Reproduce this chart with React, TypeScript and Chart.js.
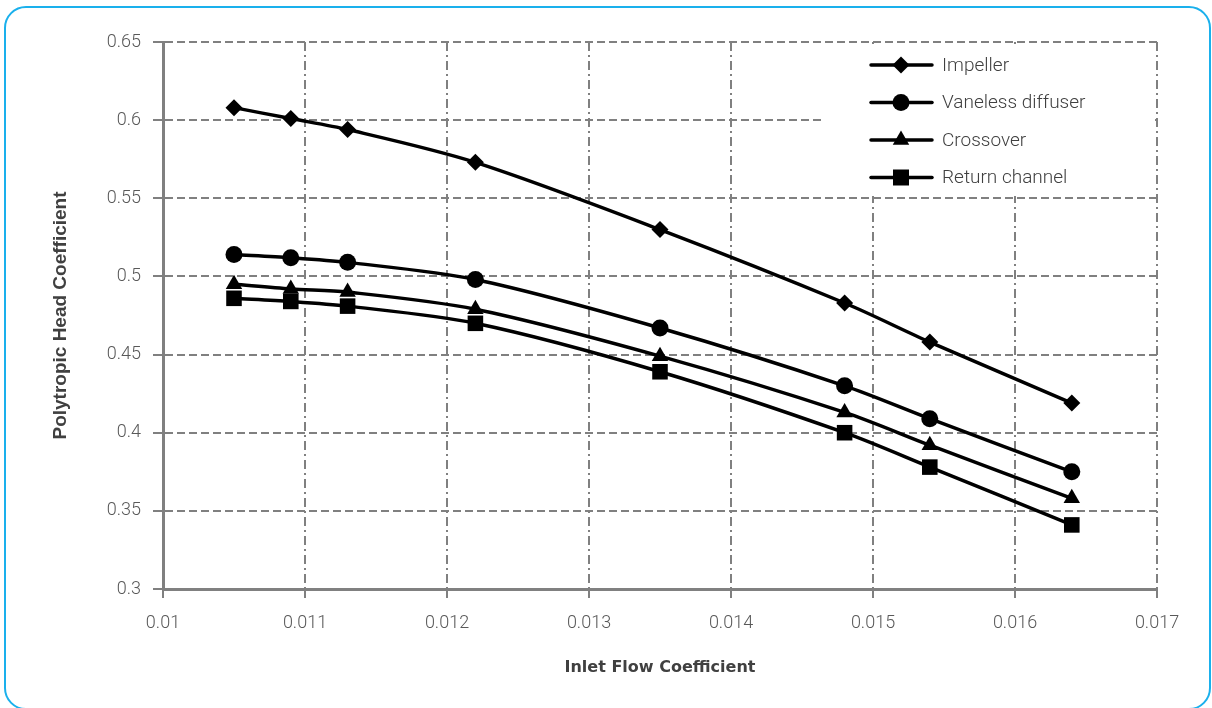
import React, { useEffect, useRef } from "react";
import { Chart, registerables } from "chart.js";

Chart.register(...registerables);

const flowCoeff = [0.0105, 0.0109, 0.0113, 0.0122, 0.0135, 0.0148, 0.0154, 0.0164];
const impeller = [0.608, 0.601, 0.594, 0.573, 0.530, 0.483, 0.458, 0.419];
const vaneless = [0.514, 0.512, 0.509, 0.498, 0.467, 0.430, 0.409, 0.375];
const crossover = [0.495, 0.492, 0.490, 0.479, 0.449, 0.413, 0.392, 0.358];
const returnChannel = [0.486, 0.484, 0.481, 0.470, 0.439, 0.400, 0.378, 0.341];
const seriesNames = ["Impeller", "Vaneless diffuser", "Crossover", "Return channel"];
const seriesStyles = ["rectRot", "circle", "triangle", "rect"];
const seriesRadius = [8.5, 8.5, 9.5, 11];

const GRID = "#808080";
const TEXT = "#595959";

function drawMarker(ctx: CanvasRenderingContext2D, style: string, x: number, y: number) {
  ctx.beginPath();
  if (style === "rectRot") {
    const r = 8.5;
    ctx.moveTo(x - r, y);
    ctx.lineTo(x, y - r);
    ctx.lineTo(x + r, y);
    ctx.lineTo(x, y + r);
    ctx.closePath();
  } else if (style === "circle") {
    ctx.arc(x, y, 8.5, 0, Math.PI * 2);
  } else if (style === "triangle") {
    const r = 9.5;
    ctx.moveTo(x, y - r);
    ctx.lineTo(x + r * Math.sin((2 * Math.PI) / 3), y - r * Math.cos((2 * Math.PI) / 3));
    ctx.lineTo(x - r * Math.sin((2 * Math.PI) / 3), y - r * Math.cos((2 * Math.PI) / 3));
    ctx.closePath();
  } else {
    const s = 8;
    ctx.rect(x - s, y - s, 2 * s, 2 * s);
  }
  ctx.fill();
}

const legendPlugin = {
  id: "customLegend",
  beforeDatasetsDraw(chart: any) {
    const { ctx, chartArea } = chart;
    ctx.save();
    const boxLeft = chartArea.right - 335;
    ctx.fillStyle = "#ffffff";
    ctx.fillRect(boxLeft, chartArea.top + 2, chartArea.right - 2 - boxLeft, 152);
    chart.data.datasets.forEach((ds: any, i: number) => {
      const y = chartArea.top + 23 + i * 37.5;
      const x0 = chartArea.right - 286;
      ctx.strokeStyle = "#000";
      ctx.fillStyle = "#000";
      ctx.lineWidth = 3.5;
      ctx.lineCap = "round";
      ctx.beginPath();
      ctx.moveTo(x0, y);
      ctx.lineTo(x0 + 61, y);
      ctx.stroke();
      drawMarker(ctx, seriesStyles[i], x0 + 30, y);
      ctx.fillStyle = "#404040";
      ctx.font = "300 19px Roboto";
      ctx.textBaseline = "middle";
      ctx.textAlign = "left";
      ctx.fillText(ds.label, x0 + 71, y + 1);
    });
    ctx.restore();
  },
};

export default function App() {
  const canvasRef = useRef<HTMLCanvasElement | null>(null);

  useEffect(() => {
    if (!canvasRef.current) return;
    const allSeries = [impeller, vaneless, crossover, returnChannel];
    const chart = new Chart(canvasRef.current, {
      type: "line",
      data: {
        datasets: allSeries.map((vals, i) => ({
          label: seriesNames[i],
          data: vals.map((v, j) => ({ x: flowCoeff[j], y: v })),
          borderColor: "#000",
          backgroundColor: "#000",
          borderWidth: 3.5,
          pointStyle: seriesStyles[i] as any,
          pointRadius: seriesRadius[i],
          pointHoverRadius: seriesRadius[i],
          pointBorderWidth: 0,
          tension: 0.3,
          fill: false,
        })),
      },
      plugins: [legendPlugin],
      options: {
        animation: false,
        responsive: false,
        maintainAspectRatio: false,
        events: [],
        layout: { padding: { top: 42, right: 55, left: 0, bottom: 0 } },
        plugins: {
          legend: { display: false },
          tooltip: { enabled: false },
        },
        scales: {
          x: {
            type: "linear",
            min: 0.01,
            max: 0.017,
            afterFit: (s: any) => {
              s.height = 119;
            },
            ticks: {
              stepSize: 0.001,
              padding: 15,
              color: TEXT,
              font: { family: "Roboto", size: 18, weight: "300" },
              callback: (v: any) => Number(Number(v).toFixed(4)).toString(),
            },
            grid: {
              color: GRID,
              lineWidth: 2,
              tickLength: 9,
              tickWidth: 2,
              tickColor: GRID,
              tickBorderDash: [],
            },
            border: { display: true, color: GRID, width: 3, dash: [9, 4, 2, 4] },
            title: {
              display: true,
              text: "Inlet Flow Coefficient",
              color: "#404040",
              font: { family: "DejaVu Sans", size: 16, weight: "bold" },
              padding: { top: 0, bottom: 31 },
            },
          },
          y: {
            type: "linear",
            min: 0.3,
            max: 0.65,
            afterFit: (s: any) => {
              s.width = 163;
            },
            ticks: {
              stepSize: 0.05,
              padding: 12,
              color: TEXT,
              font: { family: "Roboto", size: 18, weight: "300" },
              callback: (v: any) => Number(Number(v).toFixed(3)).toString(),
            },
            grid: {
              color: GRID,
              lineWidth: 2,
              tickLength: 10,
              tickWidth: 2,
              tickColor: GRID,
              tickBorderDash: [],
            },
            border: { display: true, color: GRID, width: 3, dash: [8, 4] },
            title: {
              display: true,
              text: "Polytropic Head Coefficient",
              color: "#404040",
              font: { family: "Liberation Sans", size: 19, weight: "bold" },
              padding: { top: 49, bottom: 0 },
            },
          },
        },
      },
    });
    return () => chart.destroy();
  }, []);

  return (
    <div
      style={{
        position: "absolute",
        left: 0,
        top: 0,
        width: 1212,
        height: 708,
        overflow: "hidden",
        background: "#fff",
      }}
    >
      <div
        style={{
          position: "absolute",
          left: 4,
          top: 6,
          width: 1207,
          height: 704,
          boxSizing: "border-box",
          border: "2.5px solid #1AB0EC",
          borderRadius: 22,
        }}
      />
      <canvas
        ref={canvasRef}
        width={1212}
        height={708}
        style={{ position: "absolute", left: 0, top: 0, width: 1212, height: 708 }}
      />
    </div>
  );
}
